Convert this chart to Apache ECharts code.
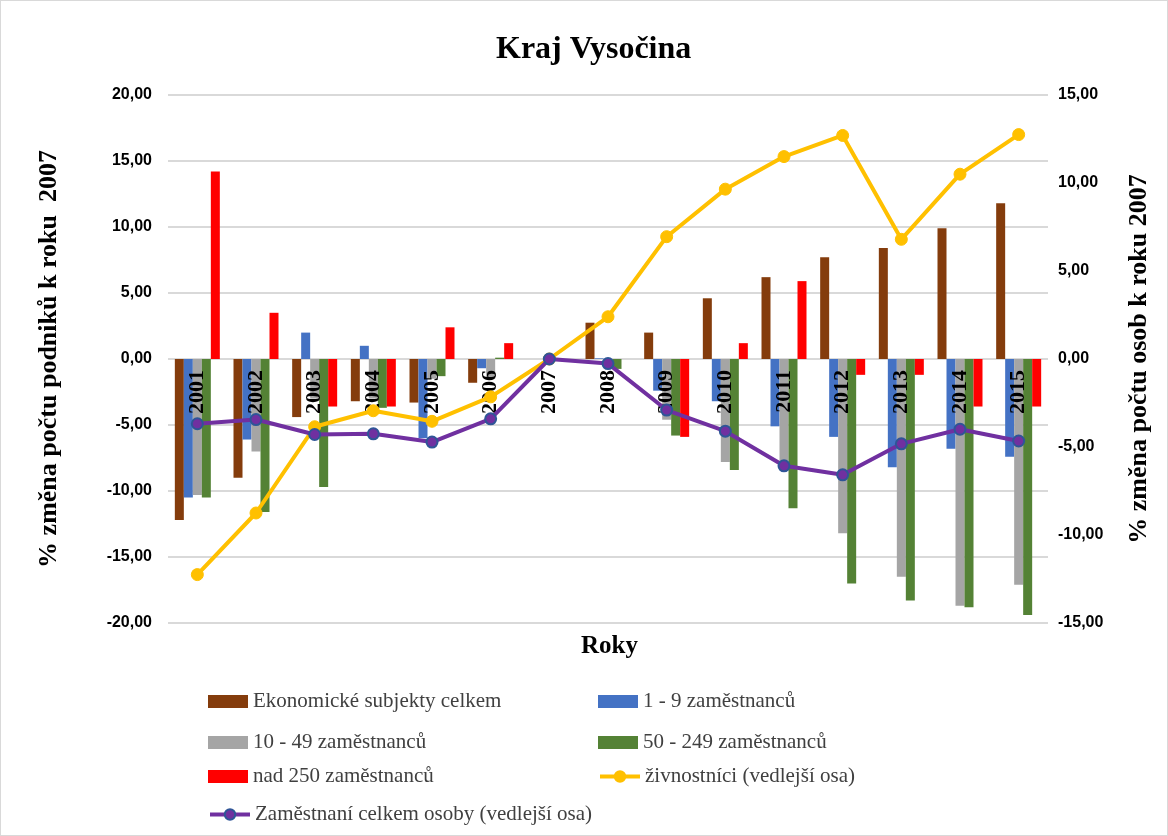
<!DOCTYPE html>
<html>
<head>
<meta charset="utf-8">
<script src="https://cdn.jsdelivr.net/npm/echarts@6/dist/echarts.min.js"></script>
<style>
html, body { margin: 0; padding: 0; background: #fff; }
#chart { width: 1166px; height: 834px; border: 1px solid #d9d9d9; }
</style>
</head>
<body>
<div id="chart"></div>
<script>
var years = ['2001', '2002', '2003', '2004', '2005', '2006', '2007', '2008', '2009', '2010', '2011', '2012', '2013', '2014', '2015'];

var celkem = [-12.2, -9.0, -4.4, -3.2, -3.3, -1.8, 0, 2.75, 2.0, 4.6, 6.2, 7.7, 8.4, 9.9, 11.8];
var mikro = [-10.5, -6.1, 2.0, 1.0, -6.0, -0.7, 0, 0.05, -2.4, -3.2, -5.1, -5.9, -8.2, -6.8, -7.4];
var male = [-10.3, -7.0, -3.0, -3.0, -1.5, -1.5, 0, 0, -4.6, -7.8, -8.2, -13.2, -16.5, -18.7, -17.1];
var stredni = [-10.5, -11.6, -9.7, -3.7, -1.3, 0.1, 0, -0.75, -5.8, -8.4, -11.3, -17.0, -18.3, -18.8, -19.4];
var velke = [14.2, 3.5, -3.6, -3.6, 2.4, 1.2, 0, 0, -5.9, 1.2, 5.9, -1.2, -1.2, -3.6, -3.6];

var zivnostnici = [-12.25, -8.75, -3.85, -2.94, -3.54, -2.15, 0, 2.4, 6.95, 9.65, 11.5, 12.7, 6.8, 10.5, 12.75];
var zamestnani = [-3.68, -3.44, -4.29, -4.25, -4.72, -3.4, 0, -0.26, -2.9, -4.1, -6.07, -6.58, -4.82, -3.99, -4.66];

var names = [
  'Ekonomické subjekty celkem',
  '1 - 9 zaměstnanců',
  '10 - 49 zaměstnanců',
  '50 - 249 zaměstnanců',
  'nad 250 zaměstnanců',
  'živnostníci (vedlejší osa)',
  'Zaměstnaní celkem osoby (vedlejší osa)'
];

var fmt = function (v) { return v.toFixed(2).replace('.', ','); };
var serif = '"Liberation Serif", "DejaVu Serif", serif';
var sans = '"Liberation Sans", Arial, sans-serif';

// the category labels sit on the zero line, which is the middle of the grid
var gridTop = 94, gridBottom = 212, gridHeight = 836 - gridTop - gridBottom;

function legendAt(name, left, top, icon) {
  var l = {
    data: [name],
    left: left,
    top: top,
    padding: 0,
    itemWidth: 40,
    itemHeight: 13,
    itemGap: 0,
    lineStyle: { width: 4 },
    textStyle: { fontFamily: serif, fontSize: 21, color: '#404040' }
  };
  if (icon) l.icon = icon;
  return l;
}

function bar(i, data, color) {
  return {
    name: names[i],
    type: 'bar',
    data: data,
    barWidth: 9,
    barGap: '0%',
    z: 2,
    itemStyle: { color: color }
  };
}

var chart = echarts.init(document.getElementById('chart'));
chart.setOption({
  animation: false,
  title: [
    {
      text: 'Kraj Vysočina',
      left: 490,
      top: 28,
      textStyle: { fontFamily: serif, fontSize: 32, fontWeight: 'bold', color: '#000' }
    },
    {
      text: 'Roky',
      left: 575,
      top: 628,
      textStyle: { fontFamily: serif, fontSize: 25, fontWeight: 'bold', color: '#000' }
    }
  ],
  legend: [
    legendAt(names[0], 207, 690, 'rect'),
    legendAt(names[1], 597, 690, 'rect'),
    legendAt(names[2], 207, 731, 'rect'),
    legendAt(names[3], 597, 731, 'rect'),
    legendAt(names[4], 207, 765, 'rect'),
    legendAt(names[5], 597, 765),
    legendAt(names[6], 207, 803)
  ],
  grid: { left: 167, right: 119, top: gridTop, bottom: gridBottom },
  xAxis: {
    type: 'category',
    data: years,
    z: 3,
    offset: -gridHeight / 2,
    axisLine: { show: false },
    axisTick: { show: false },
    axisLabel: {
      rotate: 90,
      margin: 12,
      fontFamily: serif,
      fontSize: 22,
      fontWeight: 'bold',
      color: '#000'
    }
  },
  yAxis: [
    {
      type: 'value',
      min: -20,
      max: 20,
      interval: 5,
      name: '% změna počtu podniků k roku  2007',
      nameLocation: 'middle',
      nameRotate: 90,
      nameGap: 106,
      nameTextStyle: { fontFamily: serif, fontSize: 26, fontWeight: 'bold', color: '#000' },
      axisLine: { show: false },
      axisTick: { show: false },
      splitLine: { lineStyle: { color: '#d9d9d9', width: 2 } },
      axisLabel: {
        margin: 16,
        formatter: fmt,
        fontFamily: sans,
        fontSize: 16,
        fontWeight: 'bold',
        color: '#000'
      }
    },
    {
      type: 'value',
      min: -15,
      max: 15,
      interval: 5,
      name: '% změna počtu osob k roku 2007',
      nameLocation: 'middle',
      nameRotate: 90,
      nameGap: 78,
      nameTextStyle: { fontFamily: serif, fontSize: 26, fontWeight: 'bold', color: '#000' },
      axisLine: { show: false },
      axisTick: { show: false },
      splitLine: { show: false },
      axisLabel: {
        margin: 10,
        formatter: fmt,
        fontFamily: sans,
        fontSize: 16,
        fontWeight: 'bold',
        color: '#000'
      }
    }
  ],
  series: [
    bar(0, celkem, '#843C0C'),
    bar(1, mikro, '#4472C4'),
    bar(2, male, '#A5A5A5'),
    bar(3, stredni, '#548235'),
    bar(4, velke, '#FF0000'),
    {
      name: names[5],
      type: 'line',
      yAxisIndex: 1,
      data: zivnostnici,
      z: 4,
      symbol: 'circle',
      symbolSize: 12,
      lineStyle: { color: '#FFC000', width: 4 },
      itemStyle: { color: '#FFC000', borderColor: '#FFC000', borderWidth: 1 }
    },
    {
      name: names[6],
      type: 'line',
      yAxisIndex: 1,
      data: zamestnani,
      z: 5,
      symbol: 'circle',
      symbolSize: 11,
      lineStyle: { color: '#7030A0', width: 4 },
      itemStyle: { color: '#7030A0', borderColor: '#2F5597', borderWidth: 2 }
    }
  ]
});
</script>
</body>
</html>
